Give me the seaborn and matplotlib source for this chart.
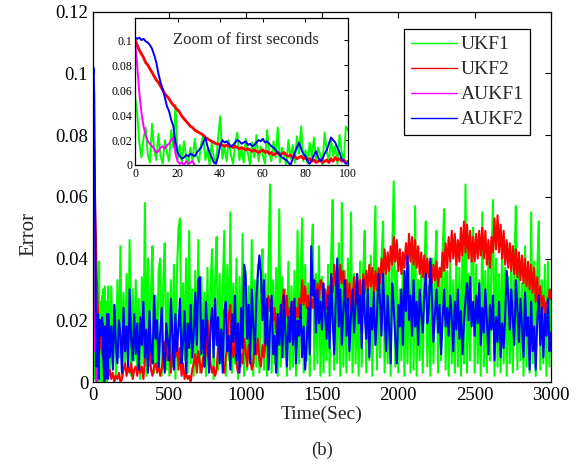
import numpy as np
import pandas as pd
import seaborn as sns
import matplotlib
matplotlib.use("Agg")
import matplotlib.pyplot as plt

# values are in units of 1e-3

# first 100 s, one value per second (t = 0..100)
ukf1_first = [55, 42, 18, 6, 22, 30, 8, 2, 33, 12, 4, 25, 7, 1, 20, 10, 3, 28, 14, 48,
              5, 16, 2, 19, 6, 0, 14, 3, 21, 8, 2, 17, 23, 4, 12, 0, 18, 6, 1, 22,
              39, 5, 15, 3, 20, 8, 1, 17, 26, 4, 13, 2, 21, 9, 0, 18, 6, 24, 3, 15,
              8, 1, 28, 10, 3, 19, 6, 30, 2, 14, 7, 0, 20, 5, 16, 2, 23, 9, 31, 3,
              12, 1, 18, 6, 22, 2, 14, 8, 0, 26, 11, 3, 20, 7, 15, 1, 24, 10, 4, 31, 28]
ukf2_first = [100, 96, 92, 89, 86, 82, 80, 77, 74, 71, 68, 66, 63, 60, 57, 55, 53, 50, 48, 46,
              44, 42, 39, 37, 35, 33, 31, 30, 28, 27, 26, 25, 24, 22, 21, 20, 19, 18, 17, 17,
              16, 16, 15, 16, 15, 15, 14, 15, 14, 13, 14, 13, 12, 13, 12, 11, 12, 11, 10, 11,
              12, 10, 11, 9, 10, 8, 9, 10, 8, 9, 10, 8, 7, 8, 6, 7, 5, 6, 7, 5,
              6, 4, 5, 3, 4, 2, 3, 4, 2, 3, 4, 2, 5, 3, 6, 4, 5, 3, 4, 2, 3]
aukf1_first = [100, 80, 58, 42, 31, 24, 19, 17, 15, 13, 10, 11, 14, 15, 13, 16, 17, 20, 22, 9,
               3, 1, 2, 0, 3, 1, 2, 3, 0]
aukf2_first = [102, 101, 102, 100, 101, 99, 98, 96, 93, 88, 82, 73, 66, 61, 54, 47, 43, 36, 31, 18,
               10, 7, 5, 6, 8, 7, 9, 8, 7, 10, 12, 14, 18, 22, 15, 10, 6, 2, 1, 7,
               16, 20, 18, 19, 17, 15, 16, 18, 20, 19, 17, 18, 19, 16, 17, 15, 16, 18, 20, 19,
               21, 18, 19, 17, 15, 14, 12, 10, 8, 6, 5, 4, 2, 0, 5, 10, 14, 18, 13, 9,
               7, 3, 1, 4, 8, 11, 6, 3, 5, 9, 12, 17, 22, 20, 18, 14, 10, 5, 3, 1, 2]

# 100..3000 s, one value every 10 s
ukf1_rest = [28, 3, 31, 6, 25, 2, 33, 8, 44, 1, 29, 5, 35, 4, 46, 2, 30, 7, 33, 3,
             27, 1, 34, 6, 58, 2, 40, 5, 30, 44, 3, 28, 6, 36, 40, 2, 31, 45, 4, 29,
             2, 33, 5, 38, 1, 35, 50, 53, 4, 32, 7, 40, 3, 49, 6, 30, 2, 36, 5, 46,
             3, 34, 8, 29, 2, 37, 5, 31, 43, 1, 33, 47, 4, 35, 6, 30, 49, 2, 38, 7,
             55, 3, 32, 6, 40, 1, 34, 5, 48, 2, 36, 4, 31, 7, 46, 2, 33, 5, 38, 3,
             30, 43, 4, 35, 2, 40, 64, 3, 33, 6, 37, 2, 56, 5, 34, 8, 30, 2, 39, 4,
             31, 5, 36, 2, 49, 6, 33, 53, 3, 38, 7, 32, 2, 40, 51, 4, 35, 6, 44, 2,
             34, 3, 30, 7, 38, 2, 41, 59, 4, 33, 6, 45, 2, 58, 5, 36, 3, 40, 7, 55,
             3, 35, 6, 31, 2, 39, 5, 36, 49, 3, 34, 7, 41, 2, 37, 57, 4, 33, 8, 40,
             52, 3, 35, 6, 38, 2, 42, 65, 5, 36, 3, 30, 7, 40, 2, 34, 6, 38, 3, 44,
             4, 57, 2, 33, 7, 38, 3, 35, 52, 5, 31, 2, 40, 6, 36, 49, 3, 34, 7, 42,
             56, 4, 36, 2, 39, 6, 33, 3, 41, 5, 37, 2, 43, 6, 64, 3, 35, 7, 40, 50,
             3, 38, 6, 33, 2, 55, 5, 36, 3, 41, 7, 38, 59, 2, 40, 5, 35, 3, 44, 6,
             37, 2, 34, 6, 41, 3, 38, 57, 4, 36, 7, 32, 2, 44, 5, 35, 3, 55, 6, 39,
             2, 36, 52, 4, 33, 6, 38, 2, 39, 5, 30]
ukf2_rest = [2, 4, 1, 3, 0, 2, 1, 3, 0, 1, 4, 6, 2, 5, 3, 6, 1, 4, 5, 2,
             6, 3, 5, 1, 7, 12, 9, 11, 4, 2, 5, 6, 3, 6, 2, 4, 8, 13, 10, 7,
             12, 3, 10, 15, 8, 16, 4, 11, 2, 6, 1, 3, 1, 2, 0, 4, 6, 9, 3, 10,
             6, 3, 8, 5, 10, 20, 14, 6, 3, 5, 2, 4, 12, 9, 14, 6, 3, 8, 11, 22,
             25, 12, 8, 14, 6, 3, 5, 9, 6, 14, 10, 5, 12, 8, 4, 6, 13, 9, 14, 7,
             5, 12, 8, 13, 22, 28, 23, 27, 20, 24, 16, 22, 14, 20, 25, 30, 21, 28, 18, 24,
             20, 26, 18, 24, 21, 27, 23, 33, 25, 31, 24, 28, 22, 27, 24, 30, 25, 32, 26, 33,
             32, 26, 30, 24, 31, 27, 34, 29, 38, 31, 37, 30, 38, 32, 36, 29, 33, 24, 32, 23,
             27, 34, 25, 35, 28, 33, 24, 35, 29, 36, 30, 38, 31, 37, 29, 36, 30, 37, 32, 40,
             33, 43, 35, 42, 36, 44, 38, 47, 39, 46, 36, 43, 35, 42, 37, 45, 38, 48, 39, 47,
             38, 46, 37, 44, 35, 42, 34, 41, 33, 40, 34, 39, 32, 38, 33, 39, 31, 37, 34, 42,
             36, 45, 37, 47, 39, 49, 40, 48, 38, 46, 39, 50, 41, 52, 42, 51, 40, 49, 39, 47,
             39, 48, 40, 49, 41, 50, 40, 49, 38, 46, 37, 47, 42, 53, 43, 54, 42, 51, 40, 49,
             38, 46, 37, 45, 36, 44, 35, 43, 34, 42, 33, 41, 32, 40, 31, 39, 30, 38, 29, 37,
             26, 34, 25, 31, 23, 28, 22, 26, 24, 30, 27]
aukf2_rest = [22, 8, 18, 4, 25, 12, 6, 20, 15, 3, 24, 10, 18, 5, 30, 14, 7, 22, 9, 19,
              4, 21, 12, 26, 8, 17, 3, 23, 11, 6, 28, 14, 20, 5, 16, 24, 9, 3, 19, 13,
              7, 27, 15, 4, 22, 10, 18, 27, 6, 13, 23, 3, 19, 11, 25, 8, 16, 29, 12, 33,
              34, 9, 20, 5, 26, 14, 3, 18, 24, 8, 27, 12, 21, 6, 17, 3, 23, 26, 10, 15,
              4, 22, 13, 28, 7, 19, 3, 24, 11, 38, 34, 14, 25, 6, 30, 18, 9, 27, 35, 41,
              35, 20, 33, 12, 27, 4, 18, 28, 9, 15, 3, 22, 12, 25, 8, 28, 16, 5, 21, 13,
              26, 12, 27, 6, 20, 15, 25, 8, 18, 4, 13, 24, 9, 44, 28, 33, 16, 30, 19, 26,
              17, 32, 22, 14, 28, 11, 35, 20, 9, 26, 40, 18, 30, 12, 24, 33, 15, 27, 10, 22,
              30, 16, 25, 35, 19, 28, 11, 33, 22, 14, 30, 8, 24, 17, 29, 12, 21, 35, 26, 15,
              35, 22, 10, 28, 17, 6, 32, 24, 14, 6, 25, 18, 30, 12, 36, 23, 41, 20, 28, 15,
              33, 18, 26, 12, 30, 22, 16, 28, 35, 19, 24, 40, 27, 13, 22, 30, 16, 25, 9, 20,
              30, 18, 24, 15, 28, 21, 10, 26, 17, 30, 14, 23, 9, 19, 27, 32, 20, 34, 18, 26,
              15, 28, 19, 32, 12, 24, 16, 30, 20, 9, 25, 17, 28, 7, 21, 13, 26, 8, 19, 11,
              22, 36, 28, 17, 30, 20, 12, 33, 24, 13, 27, 18, 8, 29, 15, 21, 4, 26, 10, 18,
              4, 20, 28, 12, 24, 8, 22, 15, 27, 10, 16]

names = ["UKF1", "UKF2", "AUKF1", "AUKF2"]
colors = ["#00ff00", "#ff0000", "#ff00ff", "#0000ff"]

t_first = np.arange(0, 101)
t_rest = np.arange(100, 3001, 10)

def full(first, rest):
    t = np.concatenate([t_first[:-1], t_rest])
    v = np.concatenate([np.array(first[:-1]), np.array(rest)]) / 1000.0
    return t, v

series_main = [full(ukf1_first, ukf1_rest),
               full(ukf2_first, ukf2_rest),
               (t_first[:len(aukf1_first)], np.array(aukf1_first) / 1000.0),
               full(aukf2_first, aukf2_rest)]
series_zoom = [(t_first, np.array(ukf1_first) / 1000.0),
               (t_first, np.array(ukf2_first) / 1000.0),
               (t_first[:len(aukf1_first)], np.array(aukf1_first) / 1000.0),
               (t_first, np.array(aukf2_first) / 1000.0)]

sns.set_style("white")
plt.rcParams["font.family"] = ["Liberation Serif", "DejaVu Serif"]

fig = plt.figure(figsize=(5.83, 4.67), dpi=100)
ax = fig.add_axes([0.1595, 0.182, 0.7856, 0.793])

for (t, v), name, c in zip(series_main, names, colors):
    sns.lineplot(x=t, y=v, ax=ax, color=c, linewidth=1.5, label=name, sort=False)

ax.set_xlim(0, 3000)
ax.set_ylim(0, 0.12)
ax.set_xticks(range(0, 3001, 500))
ax.set_yticks([0, 0.02, 0.04, 0.06, 0.08, 0.1, 0.12])
ax.set_yticklabels(["0", "0.02", "0.04", "0.06", "0.08", "0.1", "0.12"])
ax.tick_params(direction="in", top=True, right=True, length=4, width=0.8,
               labelsize=13.5, colors="black")
for s in ax.spines.values():
    s.set_color("black")
    s.set_linewidth(0.9)
ax.set_xlabel("Time(Sec)", fontsize=14, labelpad=1)
ax.set_ylabel("Error", fontsize=15)
ax.yaxis.set_label_coords(-0.12, 0.40)

leg = ax.legend(loc="upper left", bbox_to_anchor=(0.679, 0.953), borderaxespad=0,
                fontsize=14, frameon=True, fancybox=False, edgecolor="black",
                framealpha=1, handlelength=2.4, handletextpad=0.15,
                labelspacing=0.38, borderpad=0.35)
leg.get_frame().set_linewidth(0.9)
for line in leg.get_lines():
    line.set_linewidth(1.0)

fig.text(0.552, 0.036, "(b)", ha="center", va="center", fontsize=13.5)

# inset
axin = fig.add_axes([0.2316, 0.6467, 0.3654, 0.3156])
for (t, v), c in zip(series_zoom, colors):
    sns.lineplot(x=t, y=v, ax=axin, color=c, linewidth=2.0 if c == "#ff0000" else 1.4,
                 legend=False, sort=False)
axin.set_xlim(0, 100)
axin.set_ylim(0, 0.118)
axin.set_xticks(range(0, 101, 20))
axin.set_yticks([0, 0.02, 0.04, 0.06, 0.08, 0.1])
axin.set_yticklabels(["0", "0.02", "0.04", "0.06", "0.08", "0.1"])
axin.tick_params(direction="in", top=True, right=True, length=3, width=0.7,
                 labelsize=8.5, pad=2, colors="black")
for s in axin.spines.values():
    s.set_color("black")
    s.set_linewidth(0.9)
axin.set_xlabel("")
axin.set_ylabel("")
axin.text(0.52, 0.85, "Zoom of first seconds", transform=axin.transAxes,
          ha="center", va="center", fontsize=12)

fig.savefig("out.png", dpi=100)
